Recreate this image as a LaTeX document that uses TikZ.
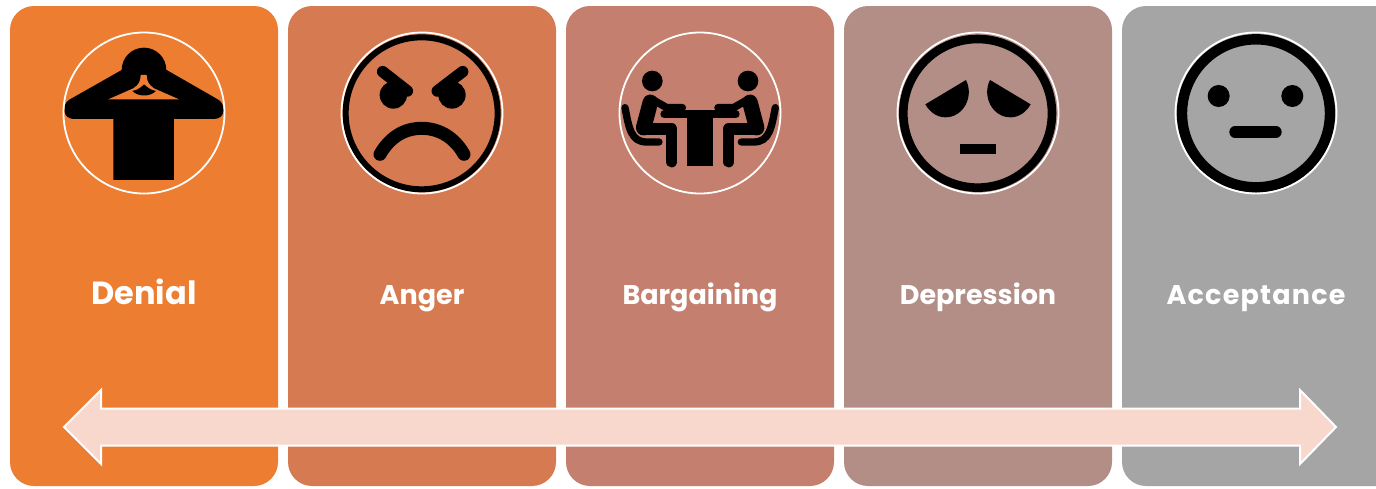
\documentclass[tikz,border=0pt]{standalone}
\usepackage{fontspec}
\setmainfont{Poppins}
\newfontface\acceptfont[LetterSpace=4.5]{Poppins Bold}
\definecolor{cA}{HTML}{ED7D31}
\definecolor{cB}{HTML}{D67A52}
\definecolor{cC}{HTML}{C47F6E}
\definecolor{cD}{HTML}{B28E87}
\definecolor{cE}{HTML}{A5A5A5}
\definecolor{arrowfill}{HTML}{F8D8CD}
\tikzset{
  panel/.style={anchor=north west,minimum width=268pt,minimum height=480pt,rounded corners=24pt,inner sep=0pt,outer sep=0pt,draw=none,fill=#1},
  badge/.style={circle,draw=white,line width=1.8pt,minimum size=161pt,inner sep=0pt},
  stagelabel/.style={text=white,anchor=base,inner sep=0pt,font=\bfseries\fontsize{27}{30}\selectfont},
  icon/.style={x=0.3333pt,y=-0.3333pt},
  stroke/.style={draw=black,line cap=round,line join=round}
}
\newcommand{\halfperson}{%
  \fill[black] (142,168) circle[radius=31];
  \draw[stroke,line width=15.5pt] (136,232) -- (116,308);
  \draw[stroke,line width=11.5pt] (113,312) -- (200,312) -- (200,410);
  \draw[stroke,line width=7.5pt] (145,225) -- (185,248) -- (232,248);
  \draw[stroke,line width=7.3pt] (60,248) .. controls (72,310) and (78,351) .. (125,351) -- (162,351);
}
\begin{document}
\begin{tikzpicture}[x=1pt,y=-1pt]
\clip (0,0) rectangle (1376,488);
\fill[white] (0,0) rectangle (1376,488);
% panels
\node[panel=cA] (p1) at (10,6) {};
\node[panel=cB] (p2) at (288,6) {};
\node[panel=cC] (p3) at (566,6) {};
\node[panel=cD] (p4) at (844,6) {};
\node[panel=cE,minimum width=290pt] (p5) at (1122,6) {};
% labels
\node[stagelabel,font=\bfseries\fontsize{32}{36}\selectfont] (t1) at (144,304) {Denial};
\node[stagelabel] (t2) at (422,304) {Anger};
\node[stagelabel] (t3) at (700,304) {Bargaining};
\node[stagelabel] (t4) at (978,304) {Depression};
\node[stagelabel,font=\acceptfont\fontsize{27}{30}\selectfont] (t5) at (1256,304) {Acceptance};
% Denial icon
\begin{scope}[shift={(50,25)},icon]
  \fill[black] (282,135) circle[radius=67];
  \fill[black] (215,135) -- (58,224) .. controls (35,238) and (36,282) .. (72,282) -- (190,282) -- (190,465) -- (372,465) -- (372,282) -- (492,282) .. controls (528,282) and (528,238) .. (505,224) -- (350,135) -- cycle;
  \fill[cA] (272,150) .. controls (272,170) and (265,180) .. (250,190) -- (175,223) -- (387,223) -- (312,190) .. controls (298,180) and (290,170) .. (290,150) -- cycle;
  \fill[black] (247,198) .. controls (265,195) and (275,185) .. (282,178) .. controls (290,185) and (300,195) .. (318,198) .. controls (300,216) and (265,216) .. cycle;
\end{scope}
\node[badge] (c1) at (144,113) {};
% Anger icon
\begin{scope}[shift={(330,25)},icon]
  \draw[black,line width=6pt] (275,265) circle[radius=228];
  \fill[black] (190,210) circle[radius=41];
  \fill[black] (366,210) circle[radius=41];
  \draw[stroke,line width=11.5pt] (158,140) -- (232,198);
  \draw[stroke,line width=11.5pt] (398,140) -- (322,198);
  \draw[stroke,line width=13pt] (150,388) .. controls (180,335) and (225,310) .. (275,310) .. controls (325,310) and (372,335) .. (402,388);
\end{scope}
\node[badge] (c2) at (422,113) {};
% Bargaining icon
\begin{scope}[shift={(605,25)},icon]
  \halfperson
  \begin{scope}[shift={(571,0)},xscale=-1]
    \halfperson
  \end{scope}
  \fill[black] (246,258) rectangle (325,422);
  \draw[stroke,line width=8pt] (178,268) -- (392,268);
\end{scope}
\node[badge] (c3) at (700,113) {};
% Depression icon
\begin{scope}[shift={(885,25)},icon]
  \draw[black,line width=8.6pt] (278,265) circle[radius=223];
  \fill[black] (121,238) -- (243,165) .. controls (268,215) and (235,278) .. (180,277) .. controls (155,276) and (135,262) .. cycle;
  \fill[black] (437,238) -- (315,165) .. controls (290,215) and (323,278) .. (378,277) .. controls (403,276) and (423,262) .. cycle;
  \fill[black] (226,356) rectangle (332,386);
\end{scope}
\node[badge] (c4) at (978,113) {};
% Acceptance icon
\begin{scope}[shift={(1160,25)},icon]
  \draw[black,line width=10.4pt] (288,265) circle[radius=222];
  \fill[black] (176,213) circle[radius=33];
  \fill[black] (397,213) circle[radius=33];
  \draw[stroke,line width=11.4pt] (225,321) -- (348,321);
\end{scope}
\node[badge] (c5) at (1256,113) {};
% double arrow
\path[draw=white,line width=2pt,fill=arrowfill,line join=miter]
  (64,427) -- (101,390) -- (101,408.5) -- (1300,408.5) -- (1300,390) -- (1336,427)
  -- (1300,464) -- (1300,445.5) -- (101,445.5) -- (101,464) -- cycle;
\end{tikzpicture}
\end{document}
